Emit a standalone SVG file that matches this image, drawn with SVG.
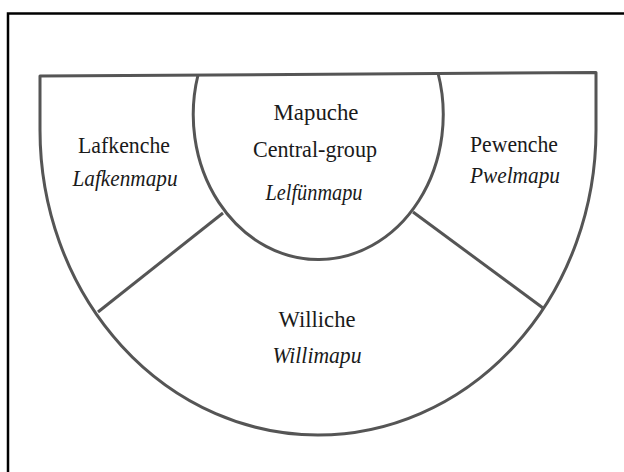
<svg xmlns="http://www.w3.org/2000/svg" width="624" height="472" viewBox="0 0 624 472">
  <style>
    .frame { fill: none; stroke: #000; stroke-width: 2.5; }
    .line { fill: none; stroke: #555; stroke-width: 3; stroke-linejoin: round; }
  </style>
  <rect width="624" height="472" fill="#fff"/>
  <path class="frame" d="M8,472 L8,13.5 L624,13.5"/>
  <g id="outer">
    <path class="line" d="M40,76 L40,130 A278,305 0 0 0 596,130 L596,72.5 Z"/>
  </g>
  <g id="connectors">
    <line class="line" x1="223" y1="213" x2="98" y2="312"/>
    <line class="line" x1="413" y1="212" x2="543" y2="308"/>
  </g>
  <g id="central">
    <path class="line" d="M198,75 A125,145 0 1 0 438,73"/>
    <text x="316" y="120" font-family="Liberation Serif" font-size="24" fill="#1a1a1a" text-anchor="middle" textLength="85" lengthAdjust="spacingAndGlyphs">Mapuche</text>
    <text x="315" y="157" font-family="Liberation Serif" font-size="24" fill="#1a1a1a" text-anchor="middle" textLength="124" lengthAdjust="spacingAndGlyphs">Central-group</text>
    <text x="314" y="200" font-family="Liberation Serif" font-size="24" font-style="italic" fill="#1a1a1a" text-anchor="middle" textLength="97" lengthAdjust="spacingAndGlyphs">Lelfünmapu</text>
  </g>
  <g id="lafkenche">
    <text x="124" y="153" font-family="Liberation Serif" font-size="24" fill="#1a1a1a" text-anchor="middle" textLength="92" lengthAdjust="spacingAndGlyphs">Lafkenche</text>
    <text x="125" y="186" font-family="Liberation Serif" font-size="24" font-style="italic" fill="#1a1a1a" text-anchor="middle" textLength="105" lengthAdjust="spacingAndGlyphs">Lafkenmapu</text>
  </g>
  <g id="pewenche">
    <text x="514" y="152" font-family="Liberation Serif" font-size="24" fill="#1a1a1a" text-anchor="middle" textLength="88" lengthAdjust="spacingAndGlyphs">Pewenche</text>
    <text x="515" y="183" font-family="Liberation Serif" font-size="24" font-style="italic" fill="#1a1a1a" text-anchor="middle" textLength="90" lengthAdjust="spacingAndGlyphs">Pwelmapu</text>
  </g>
  <g id="williche">
    <text x="317" y="327" font-family="Liberation Serif" font-size="24" fill="#1a1a1a" text-anchor="middle" textLength="77" lengthAdjust="spacingAndGlyphs">Williche</text>
    <text x="317" y="363" font-family="Liberation Serif" font-size="24" font-style="italic" fill="#1a1a1a" text-anchor="middle" textLength="89" lengthAdjust="spacingAndGlyphs">Willimapu</text>
  </g>
</svg>
